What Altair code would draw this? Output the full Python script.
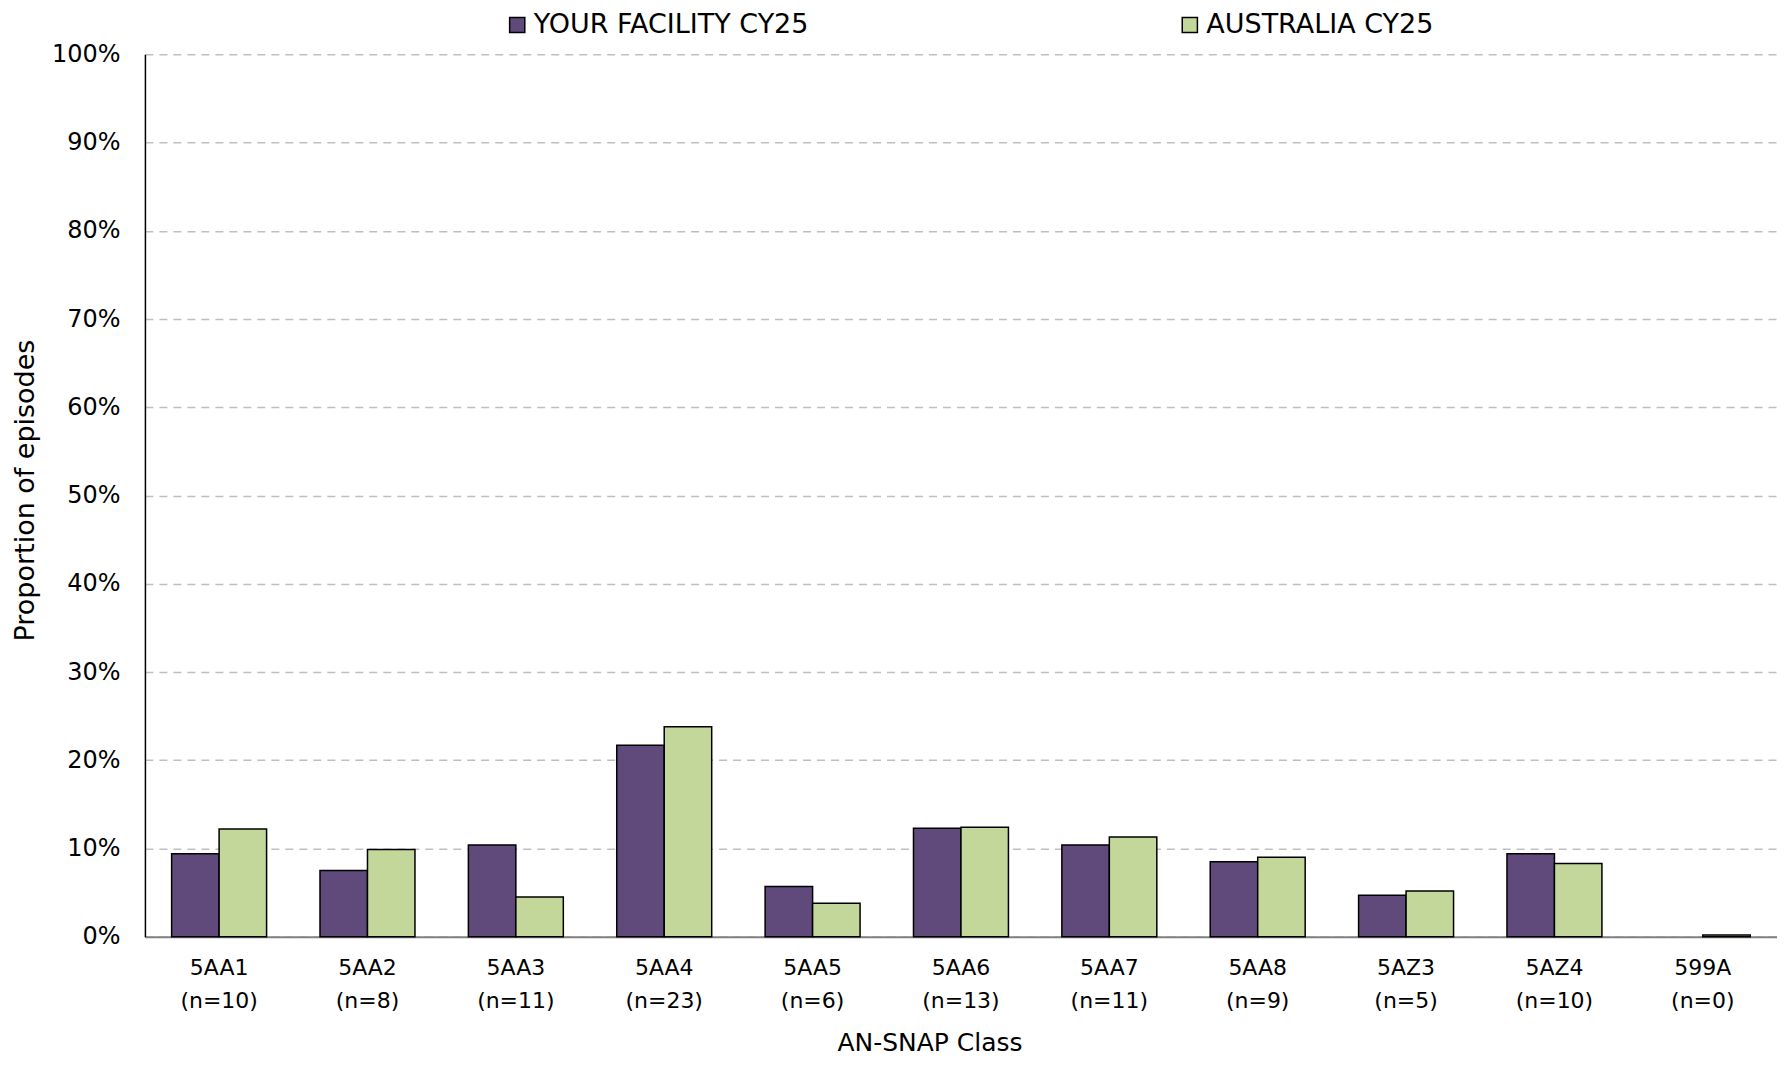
import altair as alt
import pandas as pd

classes = ["5AA1", "5AA2", "5AA3", "5AA4", "5AA5", "5AA6", "5AA7", "5AA8", "5AZ3", "5AZ4", "599A"]
counts = [10, 8, 11, 23, 6, 13, 11, 9, 5, 10, 0]
facility = [9.4, 7.5, 10.4, 21.7, 5.7, 12.3, 10.4, 8.5, 4.7, 9.4, 0.0]
australia = [12.2, 9.9, 4.5, 23.8, 3.8, 12.4, 11.3, 9.0, 5.2, 8.3, 0.2]
series_names = ["YOUR FACILITY CY25", "AUSTRALIA CY25"]
colors = ["#604A7B", "#C4D79B"]
y_ticks = [0, 0.1, 0.2, 0.3, 0.4, 0.5, 0.6, 0.7, 0.8, 0.9, 1.0]

labels = [f"{c}|(n={n})" for c, n in zip(classes, counts)]
rows = []
for lab, f, a in zip(labels, facility, australia):
    rows.append({"label": lab, "series": series_names[0], "value": f / 100})
    rows.append({"label": lab, "series": series_names[1], "value": a / 100})
df = pd.DataFrame(rows)

FONT = "DejaVu Sans"

chart = (
    alt.Chart(df)
    .transform_filter("datum.value > 0")
    .mark_bar(stroke="black", strokeWidth=1.5)
    .encode(
        x=alt.X(
            "label:N",
            sort=labels,
            scale=alt.Scale(paddingInner=0.36, paddingOuter=0.18),
            axis=alt.Axis(
                title="AN-SNAP Class",
                labelExpr="split(datum.value, '|')",
                labelAngle=0,
                labelFontSize=22,
                labelPadding=21,
                labelLineHeight=33,
                ticks=False,
                grid=False,
                domainColor="#808080",
                domainWidth=2,
                titlePadding=19,
                titleFontSize=25,
                titleX=785,
                titleAlign="center",
            ),
        ),
        xOffset=alt.XOffset("series:N", sort=series_names, scale=alt.Scale(paddingInner=0)),
        y=alt.Y(
            "value:Q",
            scale=alt.Scale(domain=[0, 1]),
            axis=alt.Axis(
                title="Proportion of episodes",
                format=".0%",
                values=y_ticks,
                ticks=False,
                labelFontSize=24,
                labelPadding=25,
                grid=True,
                gridColor="#BFBFBF",
                gridDash=[8, 6],
                gridWidth=1.5,
                domainColor="black",
                domainWidth=1.5,
                titlePadding=12,
                titleFontSize=27,
                titleY=436,
            ),
        ),
        color=alt.Color(
            "series:N",
            sort=series_names,
            scale=alt.Scale(domain=series_names, range=colors),
            legend=alt.Legend(
                title=None,
                orient="none",
                direction="horizontal",
                legendX=359,
                legendY=-43,
                symbolType="square",
                symbolSize=230,
                symbolStrokeColor="black",
                symbolStrokeWidth=1.5,
                symbolOffset=0,
                labelOffset=3,
                labelFont=FONT,
                labelFontSize=27,
                labelColor="black",
                columnPadding=367,
                labelLimit=0,
            ),
        ),
    )
    .properties(
        width=1633,
        height=883,
        autosize=alt.AutoSizeParams(type="none"),
        padding={"left": 137, "top": 46, "right": 0, "bottom": 124},
    )
    .configure_axis(
        labelFont=FONT,
        labelColor="black",
        titleFont=FONT,
        titleFontWeight="normal",
        titleColor="black",
    )
    .configure_view(stroke=None)
)

chart.save("out.html", embed_options={"renderer": "svg", "actions": False})
